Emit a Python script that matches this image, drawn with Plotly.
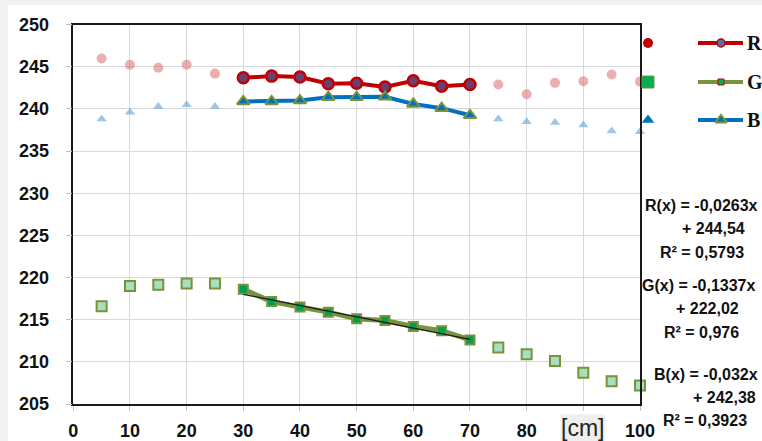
import plotly.graph_objects as go

# ---- data ----
x_vals = [5, 10, 15, 20, 25, 30, 35, 40, 45, 50, 55, 60, 65, 70, 75, 80, 85, 90, 95, 100]
R_vals = [246.0, 245.25, 244.9, 245.25, 244.2, 243.7, 243.9, 243.8, 243.0, 243.05,
          242.6, 243.35, 242.7, 242.9, 242.9, 241.75, 243.1, 243.3, 244.1, 243.25]
G_vals = [216.6, 219.0, 219.15, 219.3, 219.3, 218.6, 217.15, 216.5, 215.9, 215.1,
          214.9, 214.2, 213.7, 212.6, 211.7, 210.9, 210.1, 208.7, 207.7, 207.2]
B_vals = [238.8, 239.6, 240.3, 240.5, 240.3, 240.9, 240.9, 241.0, 241.4, 241.4,
          241.45, 240.6, 240.1, 239.25, 238.8, 238.5, 238.4, 238.1, 237.4, 237.3]
fit_lo, fit_hi = 30, 70
G_slope, G_icpt = -0.1337, 222.02
y_ticks = [205, 210, 215, 220, 225, 230, 235, 240, 245, 250]
x_ticks = [0, 10, 20, 30, 40, 50, 60, 70, 80, 90, 100]
x_ticktext = ["0", "10", "20", "30", "40", "50", "60", "70", "80", "", "100"]
legend_names = ["R", "G", "B"]
eq_lines = ["R(x) = -0,0263x", "+ 244,54", "R² = 0,5793",
            "G(x) = -0,1337x", "+ 222,02", "R² = 0,976",
            "B(x) = -0,032x", "+ 242,38", "R² = 0,3923"]

W, H = 762, 441
def px(v): return v / W
def py(v): return 1 - v / H

inside = [fit_lo <= x <= fit_hi for x in x_vals]
def sel(vals, cond):
    return [v for v, c in zip(vals, inside) if c == cond]

xo, xi = sel(x_vals, False), sel(x_vals, True)

RED = "#c00000"
GREEN = "#77933c"
BLUE = "#0070c0"

fig = go.Figure()
# faded points
fig.add_trace(go.Scatter(x=xo, y=sel(R_vals, False), mode="markers", cliponaxis=False,
                         marker=dict(symbol="circle", size=10, color="rgba(220,110,110,0.55)")))
fig.add_trace(go.Scatter(x=xo, y=sel(B_vals, False), mode="markers", cliponaxis=False,
                         marker=dict(symbol="triangle-up", size=9, color="rgba(90,160,220,0.6)")))
fig.add_trace(go.Scatter(x=xo, y=sel(G_vals, False), mode="markers", cliponaxis=False,
                         marker=dict(symbol="square", size=10, color="#a8e0bf",
                                     line=dict(color=GREEN, width=2))))
# fitted window lines
fig.add_trace(go.Scatter(x=xi, y=sel(R_vals, True), mode="lines+markers", cliponaxis=False,
                         line=dict(color=RED, width=4),
                         marker=dict(symbol="circle", size=11, color="#6a4070",
                                     line=dict(color=RED, width=2.5))))
fig.add_trace(go.Scatter(x=xi, y=sel(B_vals, True), mode="lines+markers", cliponaxis=False,
                         line=dict(color=BLUE, width=4),
                         marker=dict(symbol="triangle-up", size=11, color=BLUE,
                                     line=dict(color=GREEN, width=2))))
fig.add_trace(go.Scatter(x=xi, y=sel(G_vals, True), mode="lines+markers", cliponaxis=False,
                         line=dict(color=GREEN, width=5),
                         marker=dict(symbol="square", size=9, color="#00a050",
                                     line=dict(color=GREEN, width=2))))
fig.add_trace(go.Scatter(x=[fit_lo, fit_hi],
                         y=[G_slope * fit_lo + G_icpt, G_slope * fit_hi + G_icpt],
                         mode="lines", line=dict(color="#1a1a1a", width=1.2)))

# legend drawn in pixel overlay subplot
leg_y = [43, 82, 120]
fig.add_trace(go.Scatter(x=[648], y=[leg_y[0]], mode="markers", xaxis="x2", yaxis="y2",
                         marker=dict(symbol="circle", size=10, color=RED)))
fig.add_trace(go.Scatter(x=[648], y=[leg_y[1]], mode="markers", xaxis="x2", yaxis="y2",
                         marker=dict(symbol="square", size=12, color="#00b050",
                                     line=dict(color=GREEN, width=1))))
fig.add_trace(go.Scatter(x=[648], y=[leg_y[2]], mode="markers", xaxis="x2", yaxis="y2",
                         marker=dict(symbol="triangle-up", size=11, color=BLUE)))
leg_line_cols = [RED, GREEN, BLUE]
leg_markers = [dict(symbol="circle", size=8, color="#4f72a8", line=dict(color=RED, width=1.5)),
               dict(symbol="square", size=6, color="#00b050", line=dict(color=RED, width=1)),
               dict(symbol="triangle-up", size=10, color=BLUE, line=dict(color=GREEN, width=2))]
for yy, col, mk in zip(leg_y, leg_line_cols, leg_markers):
    fig.add_trace(go.Scatter(x=[698, 743], y=[yy, yy], mode="lines", xaxis="x2", yaxis="y2",
                             line=dict(color=col, width=4)))
    fig.add_trace(go.Scatter(x=[721], y=[yy], mode="markers", xaxis="x2", yaxis="y2", marker=mk))

annotations = []
for yy, name in zip(leg_y, legend_names):
    annotations.append(dict(x=px(745), y=py(yy), xref="paper", yref="paper", text=name,
                            showarrow=False, xanchor="left", yanchor="middle",
                            font=dict(family="Liberation Serif", size=20, color="#111",
                                      weight="bold")))
eq_pos = [(701, 206), (713, 229), (702, 252), (699, 285), (707, 308), (701, 332),
          (706, 374), (724, 397), (705, 420)]
for (ex, ey), t in zip(eq_pos, eq_lines):
    annotations.append(dict(x=px(ex), y=py(ey), xref="paper", yref="paper", text=t,
                            showarrow=False, xanchor="center", yanchor="middle",
                            font=dict(family="Liberation Sans", size=16, color="#111",
                                      weight="bold")))
annotations.append(dict(x=px(582), y=py(428), xref="paper", yref="paper", text="[cm]",
                        showarrow=False, xanchor="center", yanchor="middle",
                        bgcolor="#eeeeee", borderpad=0,
                        font=dict(family="Liberation Sans", size=23, color="#222")))

fig.update_layout(
    width=W, height=H,
    margin=dict(l=0, r=0, t=0, b=0, autoexpand=False),
    paper_bgcolor="#f2f2f2",
    plot_bgcolor="rgba(0,0,0,0)",
    showlegend=False,
    shapes=[dict(type="rect", xref="paper", yref="paper", x0=px(8), x1=1, y0=0, y1=py(5),
                 fillcolor="white", line=dict(width=0), layer="below")],
    annotations=annotations,
    xaxis=dict(domain=[px(73.3), px(640)], range=[0, 100], tickvals=x_ticks,
               ticktext=x_ticktext, automargin=False,
               showgrid=True, gridcolor="#d9d9d9", gridwidth=1, zeroline=False,
               showline=True, linecolor="#1a1a1a", linewidth=1.5, mirror=True,
               ticks="outside", ticklen=5, tickcolor="#bfbfbf", ticklabelstandoff=5,
               tickfont=dict(family="Liberation Sans", size=18, color="#111", weight="bold")),
    yaxis=dict(domain=[py(404), py(24.7)], range=[205, 250], tickvals=y_ticks, automargin=False,
               showgrid=True, gridcolor="#d9d9d9", gridwidth=1, zeroline=False,
               showline=True, linecolor="#1a1a1a", linewidth=1.5, mirror=True,
               ticks="outside", ticklen=6, tickcolor="#bfbfbf", ticklabelstandoff=13,
               tickfont=dict(family="Liberation Sans", size=18, color="#111", weight="bold")),
    xaxis2=dict(domain=[0, 1], range=[0, W], anchor="y2", visible=False, automargin=False),
    yaxis2=dict(domain=[0, 1], range=[H, 0], anchor="x2", visible=False, automargin=False),
)

fig.write_html("out.html", config={"displayModeBar": False},
               post_script="document.body.style.margin='0';document.body.style.background='#f2f2f2';")
